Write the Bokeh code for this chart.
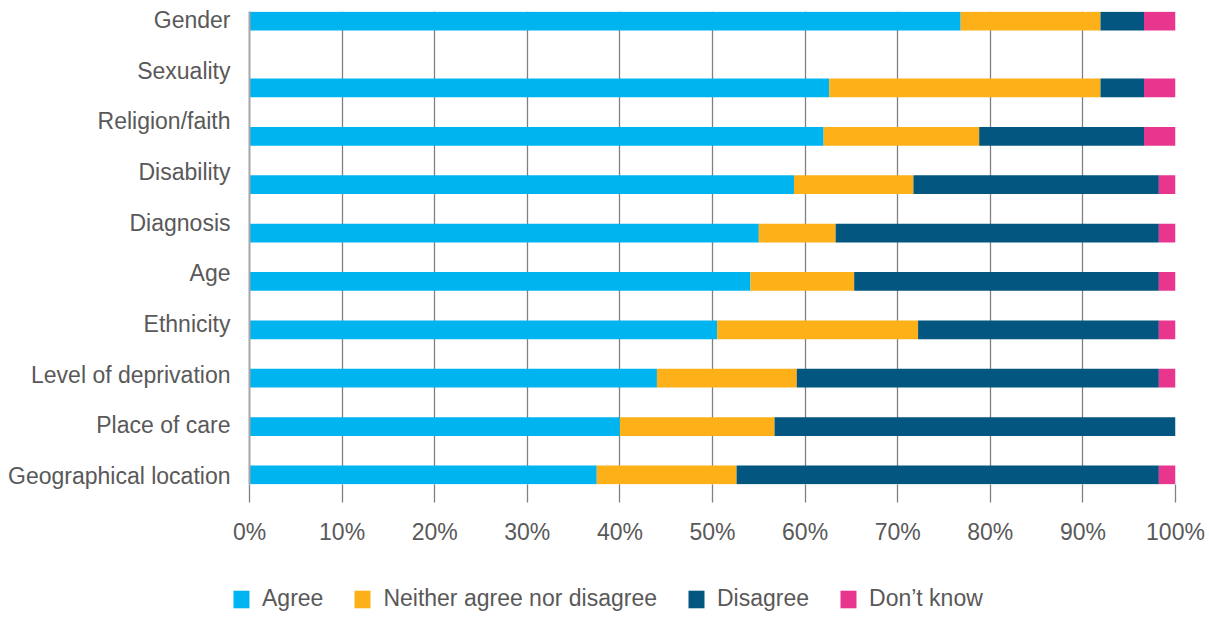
from bokeh.plotting import figure
from bokeh.layouts import column
from bokeh.models import (FactorRange, CategoricalAxis, LinearAxis, FixedTicker, Legend,
                          LegendItem, Range1d, Grid, ColumnDataSource)
from bokeh.embed import file_html
from bokeh.resources import INLINE

# ---------------- data ----------------
categories = ["Gender", "Sexuality", "Religion/faith", "Disability", "Diagnosis", "Age",
              "Ethnicity", "Level of deprivation", "Place of care", "Geographical location"]
agree = [76.8, 62.6, 62.0, 58.8, 55.0, 54.1, 50.5, 44.0, 40.0, 37.5]
neither = [15.1, 29.3, 16.8, 12.9, 8.3, 11.2, 21.7, 15.1, 16.7, 15.1]
disagree = [4.7, 4.7, 17.8, 26.5, 34.9, 32.9, 26.0, 39.1, 43.3, 45.6]
dont_know = [3.4, 3.4, 3.4, 1.8, 1.8, 1.8, 1.8, 1.8, 0.0, 1.8]
series_names = ["Agree", "Neither agree nor disagree", "Disagree", "Don\u2019t know"]
x_ticks = [0, 10, 20, 30, 40, 50, 60, 70, 80, 90, 100]
x_tick_labels = ["0%", "10%", "20%", "30%", "40%", "50%", "60%", "70%", "80%", "90%", "100%"]

# ---------------- styling ----------------
colors = ["#00B4EF", "#FDB018", "#02567F", "#E8368F"]
text_color = "#595959"
grid_color = "#808080"
font = "Liberation Sans"

# the first bar sits apart from the rest (a small extra gap in the original)
bar_groups = ["top" if i == 0 else "rest" for i in range(len(categories))]
bar_factors = [(g, c) for g, c in zip(bar_groups, categories)]

source = ColumnDataSource(dict(
    y=bar_factors, agree=agree, neither=neither, disagree=disagree, dk=dont_know))

p = figure(
    frame_width=926, frame_height=473,
    min_border_left=249, min_border_right=34, min_border_top=11, min_border_bottom=76,
    x_range=Range1d(0, 100),
    y_range=FactorRange(factors=bar_factors[::-1], group_padding=0.381,
                        range_padding=-0.3016, range_padding_units="absolute"),
    x_axis_type=None, y_axis_type=None,
    output_backend="svg", toolbar_location=None,
)
p.outline_line_color = None
p.background_fill_color = "white"
p.border_fill_color = "white"

grid = Grid(dimension=0, ticker=FixedTicker(ticks=x_ticks),
            grid_line_color=grid_color, grid_line_width=1.3)
p.add_layout(grid, "center")

renderers = p.hbar_stack(["agree", "neither", "disagree", "dk"], y="y", height=0.387,
                         fill_color=colors, line_color=None, source=source)

# category labels axis (evenly spaced as in the original)
p.extra_y_ranges = {"labels": FactorRange(factors=categories[::-1], range_padding=-0.333,
                                          range_padding_units="absolute")}
yax = CategoricalAxis(y_range_name="labels")
yax.axis_line_color = "#A6A6A6"
yax.axis_line_width = 2
yax.major_tick_line_color = None
yax.major_tick_out = 0
yax.major_tick_in = 0
yax.minor_tick_line_color = None
yax.major_label_standoff = 19
yax.major_label_text_font = font
yax.major_label_text_font_size = "23px"
yax.major_label_text_color = text_color
p.add_layout(yax, "left")

xax = LinearAxis(ticker=FixedTicker(ticks=x_ticks),
                 major_label_overrides={t: l for t, l in zip(x_ticks, x_tick_labels)})
xax.axis_line_color = None
xax.major_tick_line_color = grid_color
xax.major_tick_line_width = 1.3
xax.major_tick_out = 18
xax.major_tick_in = 0
xax.minor_tick_line_color = None
xax.major_label_standoff = 16
xax.major_label_text_font = font
xax.major_label_text_font_size = "23px"
xax.major_label_text_color = text_color
p.add_layout(xax, "below")

# ---------------- legend strip (separate small figure below the chart) ----------------
lf = figure(
    frame_width=1209, frame_height=57,
    min_border_left=0, min_border_right=0, min_border_top=0, min_border_bottom=0,
    x_range=Range1d(0, 1), y_range=Range1d(0, 1),
    x_axis_type=None, y_axis_type=None,
    output_backend="svg", toolbar_location=None,
)
lf.outline_line_color = None
lf.background_fill_color = "white"
lf.border_fill_color = "white"

# zero-size swatch renderers: they only provide the legend's colour squares
legend_renderers = [lf.hbar(y=[0], left=[0], right=[0], height=0, fill_color=c, line_color=None)
                    for c in colors]

legend = Legend(
    items=[LegendItem(label=n, renderers=[r]) for n, r in zip(series_names, legend_renderers)],
    orientation="horizontal", location=(231, 5),
    border_line_color=None, background_fill_alpha=0,
    label_text_font=font, label_text_font_size="23px", label_text_color=text_color,
    glyph_width=20, glyph_height=22, label_height=22, label_standoff=11, spacing=29,
    padding=0, margin=0,
)
lf.add_layout(legend, "center")

layout = column(p, lf, spacing=0)

open("out.html", "w").write(file_html(layout, INLINE))
